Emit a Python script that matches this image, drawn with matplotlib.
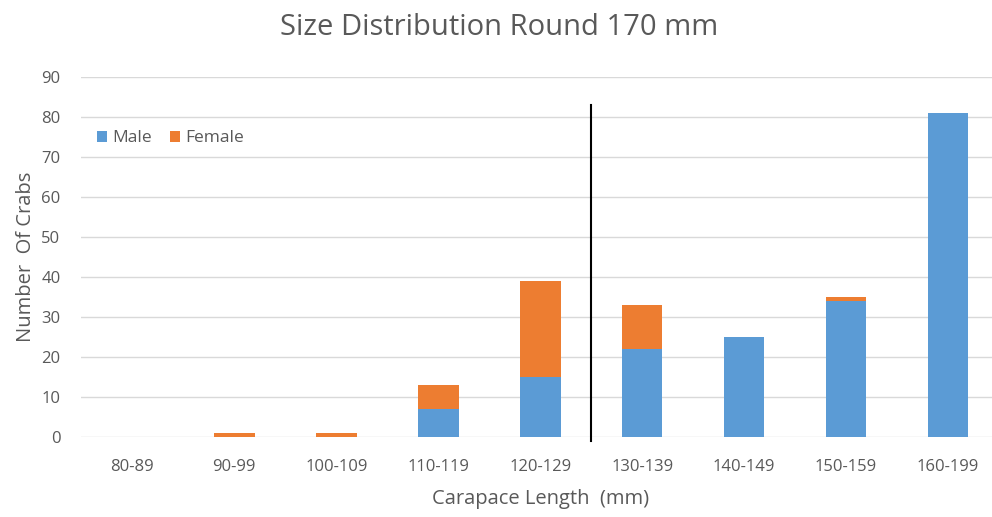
import matplotlib

matplotlib.use("Agg")

import matplotlib.pyplot as plt
import numpy as np

plt.rcParams["font.family"] = ["Open Sans", "DejaVu Sans"]

categories = ["80-89", "90-99", "100-109", "110-119", "120-129",
              "130-139", "140-149", "150-159", "160-199"]
male = [0, 0, 0, 7, 15, 22, 25, 34, 81]
female = [0, 1, 1, 6, 24, 11, 0, 1, 0]

blue = "#5B9BD5"
orange = "#ED7D31"
grey = "#595959"

fig = plt.figure(figsize=(9.92, 5.17), dpi=100)
ax = fig.add_axes([0.082, 0.155, 0.925, 0.696])

x = np.arange(len(categories))
ax.bar(x, male, width=0.4, color=blue, label="Male", zorder=3)
ax.bar(x, female, width=0.4, bottom=male, color=orange, label="Female", zorder=3)

# cut-off line between the 120-129 and 130-139 classes
ax.plot([4.5, 4.5], [-1, 83], color="black", lw=1.5, zorder=4, clip_on=False)

ax.set_xlim(-0.5, len(categories) - 0.5)
ax.set_ylim(0, 90)
ax.set_yticks(range(0, 91, 10))
ax.set_xticks(x)
ax.set_xticklabels(categories)
ax.yaxis.grid(True, color="#D9D9D9", lw=1)
ax.set_axisbelow(True)
for s in ax.spines.values():
    s.set_visible(False)
ax.tick_params(length=0, colors=grey, labelsize=12, pad=16)
ax.tick_params(axis="y", pad=15)

fig.text(0.503, 0.946, "Size Distribution Round 170 mm", fontsize=21, color=grey,
         ha="center", va="center")
ax.set_xlabel("Carapace Length  (mm)", fontsize=14.5, color=grey, labelpad=10)
ax.set_ylabel("Number  Of Crabs", fontsize=14.5, color=grey, labelpad=4)

ax.legend(loc="upper left", bbox_to_anchor=(0.0, 0.895), ncol=2, frameon=False,
          fontsize=12.5, labelcolor=grey, handlelength=0.6, handleheight=0.6,
          handletextpad=0.3, columnspacing=1.0)

fig.savefig("out.png", dpi=100)
